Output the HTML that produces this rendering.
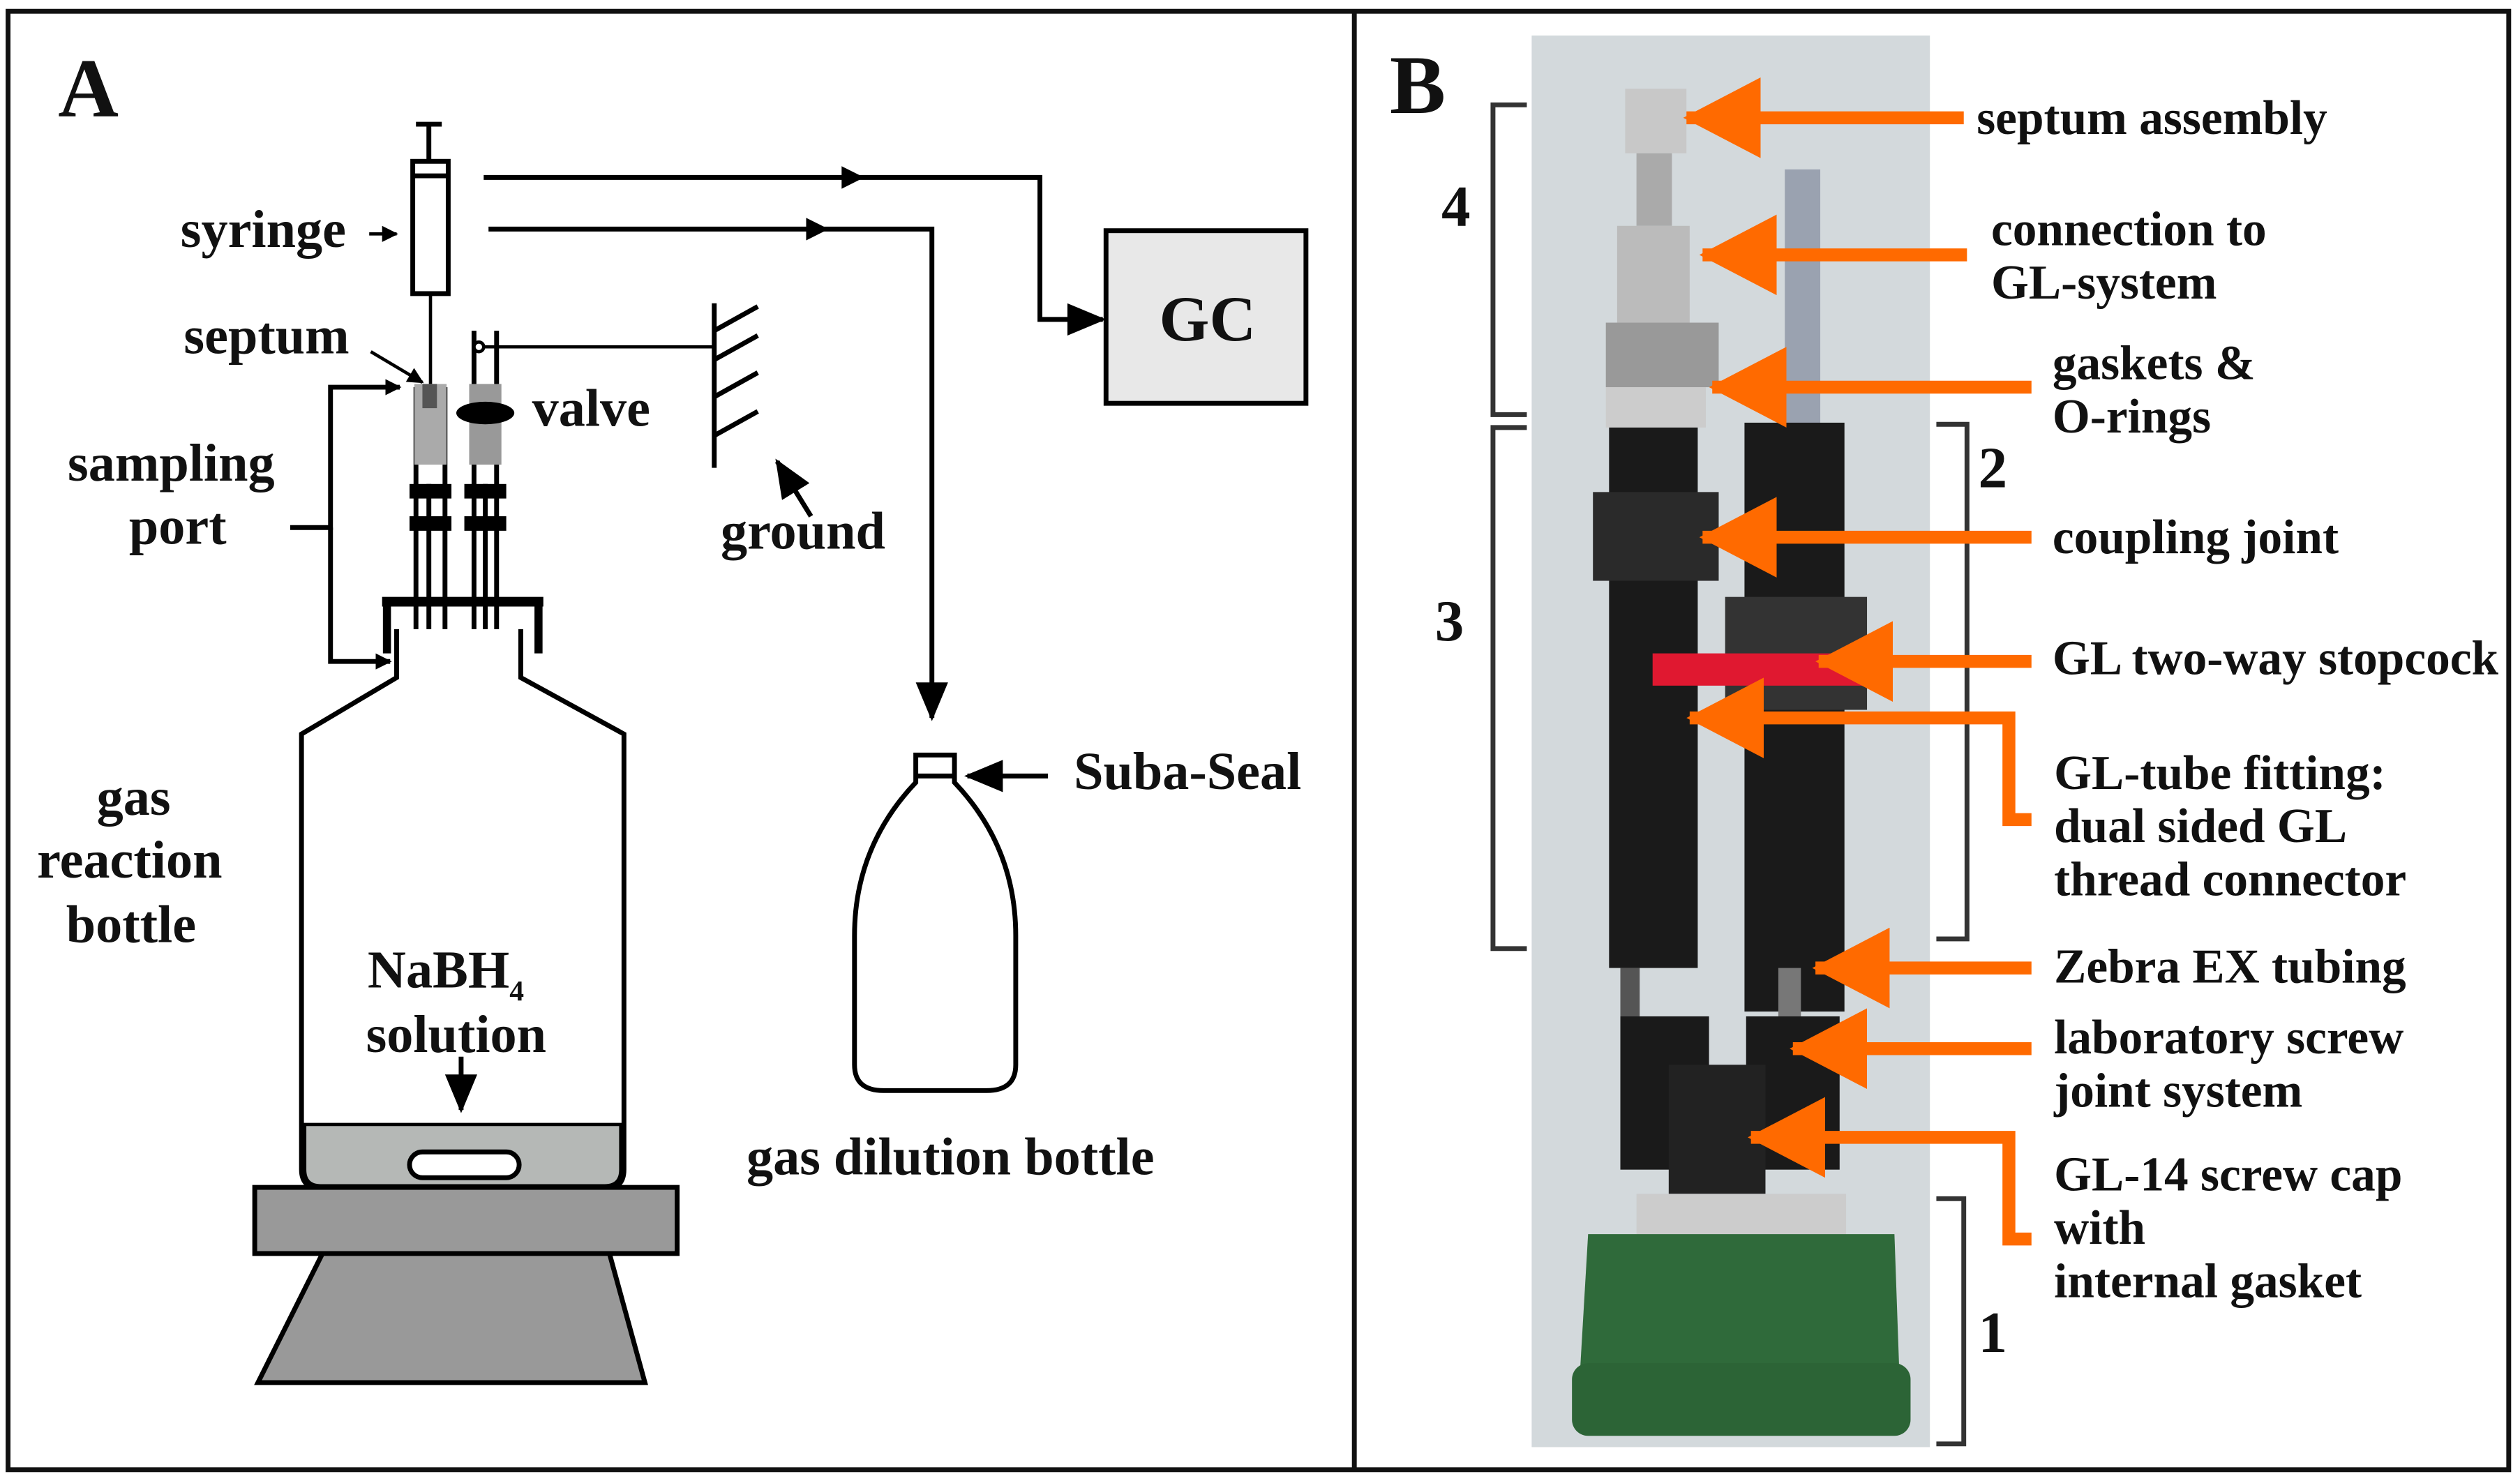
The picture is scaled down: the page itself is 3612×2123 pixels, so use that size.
<!DOCTYPE html>
<html><head><meta charset="utf-8"><style>html,body{margin:0;padding:0;background:#fff}svg{display:block}text{font-family:"Liberation Serif",serif;font-weight:bold;fill:#111}</style></head><body>
<svg width="3612" height="2123" viewBox="0 0 1563 918" preserveAspectRatio="none" xmlns="http://www.w3.org/2000/svg">
<defs>
<marker id="ah" markerWidth="10" markerHeight="10" refX="9" refY="5" orient="auto" markerUnits="userSpaceOnUse"><path d="M0,0 L10,5 L0,10z" fill="#000"/></marker>
<marker id="ab" markerWidth="24" markerHeight="20" refX="22" refY="10" orient="auto" markerUnits="userSpaceOnUse"><path d="M0,0 L24,10 L0,20z" fill="#000"/></marker>
<marker id="oa" markerWidth="48" markerHeight="50" refX="46" refY="25" orient="auto" markerUnits="userSpaceOnUse"><path d="M0,0 L48,25 L0,50z" fill="#ff6a00"/></marker>
</defs>
<rect x="5" y="7" width="1551" height="904" fill="#fff" stroke="#111" stroke-width="3"/>
<line x1="840" y1="7" x2="840" y2="911" stroke="#111" stroke-width="3"/>
<!-- Panel A -->
<text x="36" y="72" font-size="52">A</text>
<g stroke="#000" stroke-width="3" fill="none">
<line x1="266" y1="77" x2="266" y2="100"/><line x1="258" y1="77" x2="274" y2="77"/>
<rect x="256" y="100" width="22" height="82" fill="#fff"/><line x1="256" y1="109" x2="278" y2="109"/>
<line x1="267" y1="182" x2="267" y2="238" stroke-width="2"/>
<polyline points="300,110 645,110 645,198 684,198" marker-end="url(#ab)"/>
<polyline points="303,142 578,142 578,445" marker-end="url(#ab)"/>
<line x1="300" y1="215" x2="443" y2="215" stroke-width="2"/>
<line x1="443" y1="188" x2="443" y2="290"/>
<line x1="443" y1="205" x2="470" y2="190"/><line x1="443" y1="223" x2="470" y2="208"/><line x1="443" y1="246" x2="470" y2="231"/><line x1="443" y1="270" x2="470" y2="255"/>
<line x1="503" y1="320" x2="482" y2="286" stroke-width="3" marker-end="url(#ab)"/>
<line x1="229" y1="145" x2="246" y2="145" stroke-width="2" marker-end="url(#ah)"/>
<line x1="230" y1="218" x2="262" y2="237" stroke-width="2" marker-end="url(#ah)"/>
<polyline points="180,327 205,327 205,240 248,240" marker-end="url(#ah)"/>
<polyline points="205,327 205,410 242,410" marker-end="url(#ah)"/>
<rect x="686" y="143" width="124" height="107" fill="#e8e8e8"/>
<line x1="258" y1="240" x2="258" y2="392"/><line x1="276" y1="240" x2="276" y2="392"/>
<line x1="266" y1="300" x2="266" y2="392"/>
<line x1="294" y1="205" x2="294" y2="392"/><line x1="308" y1="205" x2="308" y2="392"/><line x1="301" y1="300" x2="301" y2="392"/>
<line x1="237" y1="373" x2="337" y2="373" stroke-width="6"/>
<line x1="240" y1="373" x2="240" y2="405" stroke-width="5"/><line x1="334" y1="373" x2="334" y2="405" stroke-width="5"/>
<path d="M246,390 L246,420 L187,455 L187,725 Q187,737 200,737 L375,737 Q387,737 387,725 L387,455 L323,420 L323,390" fill="#fff"/>
</g>
<path d="M522,103 L536,110 L522,117z" fill="#000"/>
<path d="M500,135 L514,142 L500,149z" fill="#000"/>
<rect x="254" y="300" width="26" height="9" fill="#000"/><rect x="254" y="320" width="26" height="9" fill="#000"/>
<rect x="288" y="300" width="26" height="9" fill="#000"/><rect x="288" y="320" width="26" height="9" fill="#000"/>
<rect x="257" y="238" width="20" height="50" fill="#aaa"/><rect x="262" y="238" width="9" height="15" fill="#555"/>
<rect x="291" y="238" width="20" height="50" fill="#999"/>
<ellipse cx="301" cy="256" rx="18" ry="7" fill="#000"/>
<circle cx="297" cy="215" r="3" fill="#fff" stroke="#000" stroke-width="2"/>
<path d="M189,697 L385,697 L385,725 Q385,735 375,735 L199,735 Q189,735 189,725z" fill="#b5b8b6" stroke="#000" stroke-width="2"/>
<rect x="254" y="714" width="68" height="16" rx="8" fill="#fff" stroke="#000" stroke-width="3"/>
<rect x="158" y="736" width="262" height="41" fill="#999" stroke="#000" stroke-width="3"/>
<path d="M200,777 L378,777 L400,857 L160,857z" fill="#999" stroke="#000" stroke-width="3"/>
<line x1="286" y1="655" x2="286" y2="688" stroke="#000" stroke-width="3" marker-end="url(#ab)"/>
<path d="M568,480 L568,468 L592,468 L592,480 L592,485 Q630,525 630,580 L630,660 Q630,676 612,676 L548,676 Q530,676 530,660 L530,580 Q530,525 568,485z" fill="#fff" stroke="#000" stroke-width="3"/>
<line x1="568" y1="481" x2="592" y2="481" stroke="#000" stroke-width="3"/>
<line x1="650" y1="481" x2="600" y2="481" stroke="#000" stroke-width="3" marker-end="url(#ab)"/>
<g font-size="33">
<text x="112" y="153">syringe</text>
<text x="114" y="219">septum</text>
<text x="330" y="264">valve</text>
<text x="42" y="298">sampling</text>
<text x="80" y="337">port</text>
<text x="447" y="340">ground</text>
<text x="719" y="211" font-size="40">GC</text>
<text x="666" y="489">Suba-Seal</text>
<text x="60" y="505">gas</text>
<text x="23" y="544">reaction</text>
<text x="41" y="584">bottle</text>
<text x="228" y="612">NaBH<tspan font-size="18" dy="8">4</tspan></text>
<text x="227" y="652" dy="0">solution</text>
<text x="463" y="728">gas dilution bottle</text>
</g>
<!-- Panel B -->
<text x="862" y="70" font-size="52">B</text>
<rect x="950" y="22" width="247" height="875" fill="#d3d9dc"/>
<rect x="1008" y="55" width="38" height="40" fill="#c8c8c8"/>
<rect x="1015" y="95" width="22" height="45" fill="#aaa"/>
<rect x="1003" y="140" width="45" height="60" fill="#bbb"/>
<rect x="996" y="200" width="70" height="40" fill="#999"/>
<rect x="1107" y="105" width="22" height="160" fill="#9aa2b0"/>
<rect x="996" y="240" width="62" height="25" fill="#ccc"/>
<rect x="998" y="265" width="55" height="335" fill="#1a1a1a"/>
<rect x="988" y="305" width="78" height="55" fill="#2a2a2a"/>
<rect x="1082" y="262" width="62" height="365" fill="#1a1a1a"/>
<rect x="1070" y="370" width="88" height="70" fill="#333"/>
<rect x="1025" y="405" width="140" height="20" fill="#e01830"/>
<rect x="1005" y="600" width="12" height="30" fill="#555"/><rect x="1103" y="600" width="14" height="30" fill="#777"/>
<rect x="1005" y="630" width="55" height="95" fill="#1a1a1a"/>
<rect x="1083" y="630" width="58" height="95" fill="#1a1a1a"/>
<rect x="1035" y="660" width="60" height="80" fill="#222"/>
<rect x="1015" y="740" width="130" height="25" fill="#ccc"/>
<path d="M985,765 L1175,765 L1178,850 L980,850z" fill="#2f6a3a"/>
<rect x="975" y="845" width="210" height="45" rx="10" fill="#2c6436"/>
<g stroke="#333" stroke-width="3" fill="none">
<polyline points="947,65 926,65 926,257 947,257"/>
<polyline points="947,265 926,265 926,588 947,588"/>
<polyline points="1201,263 1220,263 1220,582 1201,582"/>
<polyline points="1201,743 1218,743 1218,895 1201,895"/>
</g>
<g stroke="#ff6a00" stroke-width="8" fill="none">
<line x1="1218" y1="73" x2="1046" y2="73" marker-end="url(#oa)"/>
<line x1="1220" y1="158" x2="1056" y2="158" marker-end="url(#oa)"/>
<line x1="1260" y1="240" x2="1062" y2="240" marker-end="url(#oa)"/>
<line x1="1260" y1="333" x2="1056" y2="333" marker-end="url(#oa)"/>
<line x1="1260" y1="410" x2="1128" y2="410" marker-end="url(#oa)"/>
<polyline points="1260,508 1246,508 1246,445 1048,445" marker-end="url(#oa)"/>
<line x1="1260" y1="600" x2="1126" y2="600" marker-end="url(#oa)"/>
<line x1="1260" y1="650" x2="1112" y2="650" marker-end="url(#oa)"/>
<polyline points="1260,768 1246,768 1246,705 1086,705" marker-end="url(#oa)"/>
</g>
<g font-size="30">
<text x="894" y="140" font-size="36">4</text>
<text x="890" y="397" font-size="36">3</text>
<text x="1227" y="302" font-size="36">2</text>
<text x="1227" y="838" font-size="36">1</text>
<text x="1226" y="83">septum assembly</text>
<text x="1235" y="152">connection to</text>
<text x="1235" y="185">GL-system</text>
<text x="1273" y="235">gaskets &amp;</text>
<text x="1273" y="268">O-rings</text>
<text x="1273" y="343">coupling joint</text>
<text x="1273" y="418">GL two-way stopcock</text>
<text x="1274" y="489">GL-tube fitting:</text>
<text x="1274" y="522">dual sided GL</text>
<text x="1274" y="555">thread connector</text>
<text x="1274" y="609">Zebra EX tubing</text>
<text x="1274" y="653">laboratory screw</text>
<text x="1274" y="686">joint system</text>
<text x="1274" y="738">GL-14 screw cap</text>
<text x="1274" y="771">with</text>
<text x="1274" y="804">internal gasket</text>
</g>
</svg>
</body></html>
